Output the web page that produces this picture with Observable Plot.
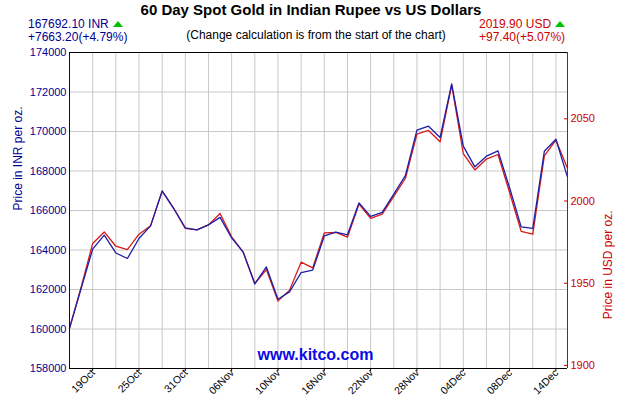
<!DOCTYPE html>
<html><head><meta charset="utf-8">
<script src="https://cdn.jsdelivr.net/npm/d3@7"></script>
<script src="https://cdn.jsdelivr.net/npm/@observablehq/plot@0.6"></script>
<style>
body{margin:0;background:#fff;font-family:"Liberation Sans",Arial,sans-serif;}
#wrap{position:relative;width:630px;height:400px;overflow:hidden;background:#fff}
.h{position:absolute;white-space:nowrap;font-size:12px;line-height:1}
.tri{display:inline-block;width:0;height:0;border-left:5px solid transparent;border-right:5px solid transparent;border-bottom:6px solid #00c000;margin-left:4px;vertical-align:1px}
</style></head><body>
<div id="wrap">
 <div id="chart"></div>
 <div class="h" style="left:0;width:622px;top:1.5px;text-align:center;font-weight:bold;font-size:15px;color:#000">60 Day Spot Gold in Indian Rupee vs US Dollars</div>
 <div class="h" id="inrLast" style="left:28px;top:17.5px;color:#000090"></div>
 <div class="h" id="inrChg" style="left:28px;top:30.5px;color:#000090"></div>
 <div class="h" style="left:0;width:632px;top:29px;text-align:center;font-size:12px;color:#000">(Change calculation is from the start of the chart)</div>
 <div class="h" id="usdLast" style="left:479px;top:17.5px;color:#cc0000"></div>
 <div class="h" id="usdChg" style="left:479px;top:30.5px;color:#cc0000"></div>
</div>
<script>
const dates = ["17Oct","18Oct","19Oct","20Oct","23Oct","24Oct","25Oct","26Oct","27Oct","30Oct","31Oct",
  "01Nov","02Nov","03Nov","06Nov","07Nov","08Nov","09Nov","10Nov","13Nov","14Nov","15Nov","16Nov","17Nov",
  "20Nov","21Nov","22Nov","23Nov","24Nov","27Nov","28Nov","29Nov","30Nov","01Dec","04Dec","05Dec","06Dec",
  "07Dec","08Dec","11Dec","12Dec","13Dec","14Dec","15Dec"];
const inr = [160028.9,162050,164040,164750,163850,163570,164580,165220,166990,166100,165120,
  165020,165270,165650,164610,163890,162280,163140,161510,161880,162860,162980,164710,164900,
  164770,166390,165700,165910,166830,167770,170070,170270,169700,172410,169260,168210,168750,
  169020,167150,165170,165090,169000,169610,167692.1];
const usd = [1922.5,1947.4,1974.2,1981.2,1972.5,1970.5,1979.8,1984.9,2006.0,1995.5,1983.3,
  1982.4,1985.5,1992.4,1978.2,1968.9,1949.8,1958.3,1939.1,1945.8,1962.8,1959.3,1980.6,1980.9,
  1978.0,1998.1,1989.5,1992.0,2002.8,2013.7,2040.7,2042.9,2036.0,2070.5,2028.9,2018.9,2025.5,
  2028.3,2005.2,1981.6,1979.8,2027.5,2037.0,2019.9];
const inrTicks = [158000,160000,162000,164000,166000,168000,170000,172000,174000];
const usdTicks = [1900,1950,2000,2050];
const labelIdx = [2,6,10,14,18,22,26,30,34,38,42];

const rate = inr[0] / usd[0];
const n = dates.length;
const data = dates.map((d, i) => ({i, date: d, inr: inr[i], usdScaled: usd[i] * rate}));
const navy = "#000090", red = "#cc0000";

const fmtChg = (a, b) => {
  const d = b - a, p = d / a * 100;
  return (d >= 0 ? "+" : "") + d.toFixed(2) + "(" + (p >= 0 ? "+" : "") + p.toFixed(2) + "%)";
};
document.getElementById("inrLast").innerHTML = inr[n-1].toFixed(2) + " INR<span class='tri'></span>";
document.getElementById("inrChg").textContent = fmtChg(inr[0], inr[n-1]);
document.getElementById("usdLast").innerHTML = usd[n-1].toFixed(2) + " USD<span class='tri'></span>";
document.getElementById("usdChg").textContent = fmtChg(usd[0], usd[n-1]);

const chart = Plot.plot({
  width: 630, height: 400,
  marginTop: 52, marginBottom: 32, marginLeft: 69, marginRight: 63,
  style: {fontFamily: '"Liberation Sans", Arial, sans-serif', fontSize: "11px", background: "transparent", overflow: "visible"},
  x: {domain: [0, n - 1], axis: null, label: null},
  y: {domain: [158000, 174000], axis: null, label: null},
  marks: [
    Plot.gridX(d3.range(2, n - 1, 2), {stroke: "#c8c8c8", strokeOpacity: 1}),
    Plot.gridY(inrTicks.slice(1, -1), {stroke: "#c8c8c8", strokeOpacity: 1}),
    Plot.line(data, {x: "i", y: "usdScaled", stroke: "#d41a1a", strokeWidth: 1.3}),
    Plot.line(data, {x: "i", y: "inr", stroke: "#1e1ea6", strokeWidth: 1.3}),
    Plot.ruleY([174000], {stroke: "#000"}),
    Plot.ruleY([158000], {stroke: "#000"}),
    Plot.ruleX([0], {stroke: navy}),
    Plot.ruleX([n - 1], {stroke: red}),
    Plot.axisY(inrTicks, {anchor: "left", tickSize: 0, tickPadding: 3, tickFormat: d => String(d), color: navy, fontSize: 11, label: null}),
    Plot.axisY(usdTicks.map(v => v * rate), {anchor: "right", tickSize: -4, tickPadding: 7, color: red,
      tickFormat: d => String(Math.round(d / rate)), fontSize: 11, label: null}),
    Plot.axisX(labelIdx, {tickSize: 3, tickFormat: null, text: null, label: null, color: "#000"}),
    Plot.text(labelIdx, {x: d => d, text: d => dates[d], frameAnchor: "bottom", rotate: -45,
      textAnchor: "end", dx: 3, dy: 5, fontSize: 10.5, fill: "#000"}),
    Plot.text(["Price in INR per oz."], {frameAnchor: "left", dx: -51, rotate: -90, fill: navy, fontSize: 12}),
    Plot.text(["Price in USD per oz."], {frameAnchor: "right", dx: 41, rotate: -90, fill: red, fontSize: 12}),
    Plot.text(["www.kitco.com"], {frameAnchor: "bottom", dy: -9, dx: -3, fill: "#0a0ae6", fontSize: 16, fontWeight: "bold"})
  ]
});
document.getElementById("chart").appendChild(chart);
</script>
</body></html>
